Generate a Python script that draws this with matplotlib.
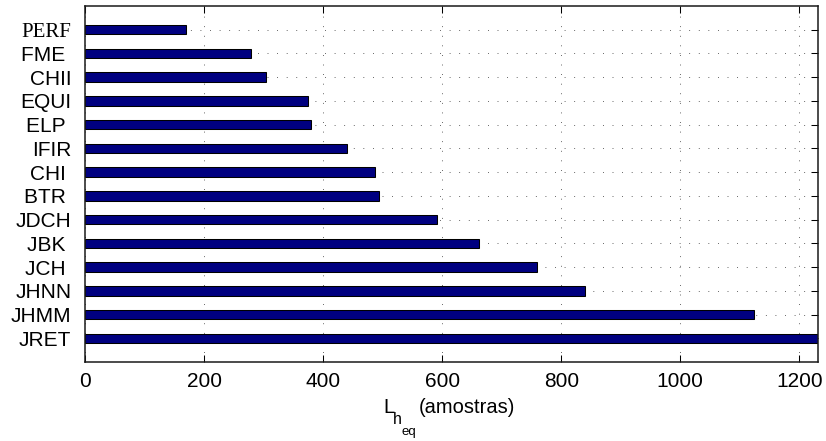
import matplotlib
matplotlib.use("Agg")
import matplotlib.pyplot as plt

# Equivalent filter length per method (bottom to top)
methods = ["JRET", "JHMM", "JHNN", "JCH", "JBK", "JDCH", "BTR",
           "CHI", "IFIR", "ELP", "EQUI", "CHII", "FME", "PERF"]
lengths = [1231, 1124, 840, 760, 662, 591, 494,
           487, 440, 379, 374, 304, 278, 169]
xticks = [0, 200, 400, 600, 800, 1000, 1200]
xmax = 1231

W, H = 826, 441
fig = plt.figure(figsize=(W / 100, H / 100), dpi=100)
ax = fig.add_axes([85.3 / W, 1 - 362 / H, (817.7 - 85.3) / W, (362 - 6) / H])

pos = list(range(1, len(methods) + 1))
ax.barh(pos, lengths, height=0.4, color="#000080", edgecolor="black",
        linewidth=0.75, zorder=3)

ax.set_xlim(0, xmax)
ax.set_ylim(0, len(methods) + 1)
ax.set_xticks(xticks)
ax.set_xticklabels([str(v) for v in xticks], fontfamily="Liberation Sans",
                   fontsize=15)
ax.set_yticks(pos)
# pad 3-letter names to 4 characters, like a space-padded char matrix
ax.set_yticklabels([m.ljust(4) for m in methods], fontfamily="Liberation Sans",
                   fontsize=15)
for lab in ax.get_yticklabels():
    if lab.get_text().strip() == "PERF":
        lab.set_fontfamily("Liberation Serif")

ax.tick_params(axis="both", direction="in", length=5, width=0.75,
               top=True, right=True, colors="black")
ax.tick_params(axis="x", pad=7)
ax.tick_params(axis="y", pad=10)

ax.grid(True, linestyle=(0, (1, 10.5)), linewidth=0.6, color="#333333",
        zorder=0)
ax.set_axisbelow(True)
for sp in ax.spines.values():
    sp.set_linewidth(1.1)
    sp.set_color("#1a1a1a")
    sp.set_zorder(5)

# x-axis label: L with nested subscripts, then the unit
fs = "Liberation Sans"
fig.text(383 / W, 1 - 413 / H, "L", fontsize=14.5, family=fs, va="baseline")
fig.text(392.5 / W, 1 - 423.5 / H, "h", fontsize=11.5, family=fs, va="baseline")
fig.text(401.5 / W, 1 - 434.5 / H, "eq", fontsize=9.5, family=fs, va="baseline")
fig.text(419 / W, 1 - 413 / H, "(amostras)", fontsize=14.5, family=fs,
         va="baseline")

fig.savefig("out.png", dpi=100)
